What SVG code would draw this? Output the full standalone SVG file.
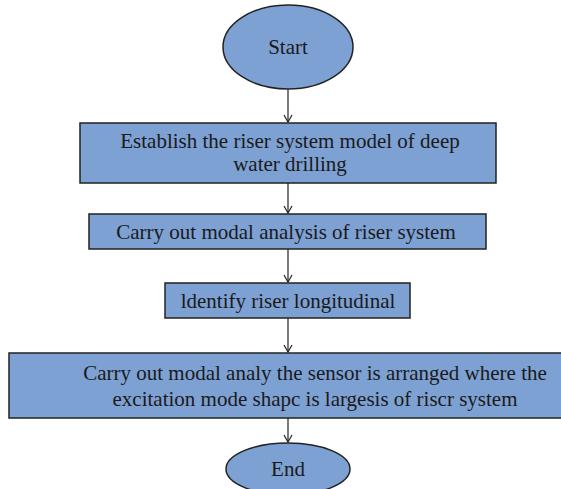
<svg xmlns="http://www.w3.org/2000/svg" width="561" height="489" viewBox="0 0 561 489">
<defs>
<style>
.n{fill:#7ea1d4;stroke:#222;stroke-width:1.5}
.t{font-family:"Liberation Serif",serif;font-size:21px;fill:#1a1a1a;text-anchor:middle}
.c{stroke:#222;stroke-width:1.2;fill:none}
</style>
<marker id="a" markerWidth="10" markerHeight="10" refX="9" refY="5" orient="auto" markerUnits="userSpaceOnUse" viewBox="0 0 10 10">
<path d="M2,1 L9,5 L2,9" fill="none" stroke="#222" stroke-width="1.2"/>
</marker>
</defs>
<rect width="561" height="489" fill="#fff"/>
<g id="connectors">
<line class="c" x1="288" y1="89" x2="288" y2="122" marker-end="url(#a)"/>
<line class="c" x1="288" y1="183" x2="288" y2="213" marker-end="url(#a)"/>
<line class="c" x1="288" y1="249" x2="288" y2="282" marker-end="url(#a)"/>
<line class="c" x1="288" y1="318" x2="288" y2="352" marker-end="url(#a)"/>
<line class="c" x1="288" y1="418" x2="288" y2="442" marker-end="url(#a)"/>
</g>
<g id="start">
<ellipse class="n" cx="288" cy="47" rx="65" ry="42"/>
<text class="t" x="288" y="54">Start</text>
</g>
<g id="establish">
<rect class="n" x="80" y="123" width="416" height="60"/>
<text class="t" x="290" y="148">Establish the riser system model of deep</text>
<text class="t" x="290" y="171">water drilling</text>
</g>
<g id="modal">
<rect class="n" x="89" y="214" width="397" height="35"/>
<text class="t" x="286" y="239">Carry out modal analysis of riser system</text>
</g>
<g id="identify">
<rect class="n" x="165" y="283" width="245" height="35"/>
<text class="t" x="288" y="308">ldentify riser longitudinal</text>
</g>
<g id="sensor">
<rect class="n" x="9" y="353" width="570" height="65"/>
<text class="t" x="315" y="380">Carry out modal analy the sensor is arranged where the</text>
<text class="t" x="315" y="406">excitation mode shapc is largesis of riscr system</text>
</g>
<g id="end">
<ellipse class="n" cx="288" cy="469" rx="62" ry="26"/>
<text class="t" x="288" y="476">End</text>
</g>
</svg>
